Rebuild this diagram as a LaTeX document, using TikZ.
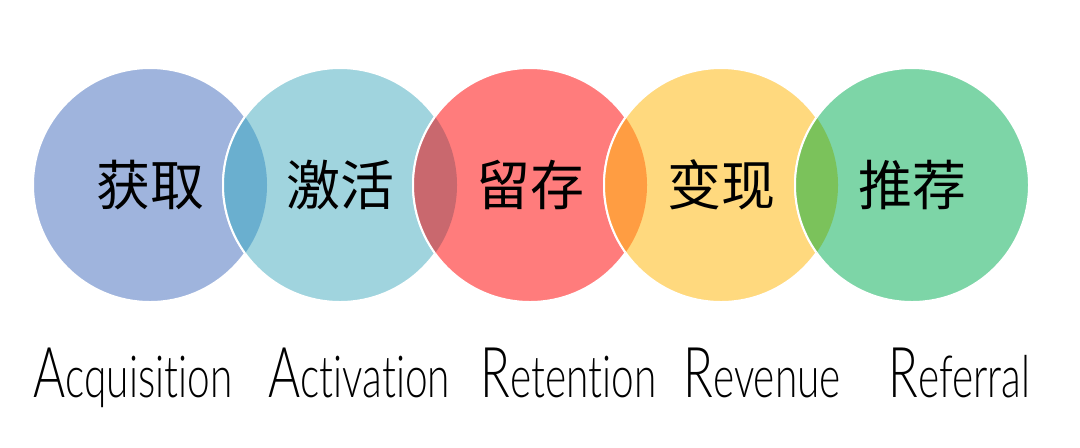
\documentclass[tikz,border=0pt]{standalone}
\usepackage{fontspec}
\setmainfont{Lato Light}[FakeStretch=0.7, Ligatures=NoCommon]
\newfontfamily\cjkfont{Noto Sans CJK SC}
\usepackage{xcolor}
\usepackage{tikz}
\usetikzlibrary{positioning}

\definecolor{acqcol}{HTML}{9FB4DD}
\definecolor{actcol}{HTML}{A0D4DE}
\definecolor{retcol}{HTML}{FF7C7C}
\definecolor{revcol}{HTML}{FFD97E}
\definecolor{refcol}{HTML}{7DD5A7}
\definecolor{lensone}{HTML}{6AAFCF}
\definecolor{lenstwo}{HTML}{C9686E}
\definecolor{lensthree}{HTML}{FF9D42}
\definecolor{lensfour}{HTML}{7BC25B}

\newcommand{\bigfirst}[1]{{\fontsize{35}{37}\selectfont #1}}

\begin{document}
\begin{tikzpicture}[
    x=0.5pt, y=0.5pt,
    stage/.style={circle, draw=white, line width=1pt, inner sep=0pt, minimum size=117pt,
        font=\cjkfont\fontsize{27}{30}\selectfont},
    lens/.style={draw=white, line width=1pt},
    wordlbl/.style={anchor=base west, inner sep=0pt, font=\fontsize{29}{31}\selectfont}
]
    \useasboundingbox (0,0) rectangle (1080,447);

    % Funnel circles
    \node[stage, fill=acqcol] (acq) at (150,262) {获取};
    \node[stage, fill=actcol] (act) at (340,262) {激活};
    \node[stage, fill=retcol] (ret) at (530,262) {留存};
    \node[stage, fill=revcol] (rev) at (721,262) {变现};
    \node[stage, fill=refcol] (ref) at (912,262) {推荐};

    % Overlaps
    \foreach \a/\b/\c in {acq/act/lensone, act/ret/lenstwo, ret/rev/lensthree, rev/ref/lensfour} {
        \begin{scope}
            \clip (\a) circle (117);
            \fill[lens, fill=\c] (\b) circle (117);
        \end{scope}
    }

    % AARRR labels
    \node[wordlbl] (acqtxt) at (33,50) {\bigfirst{A}cquisition};
    \node[wordlbl] (acttxt) at (268,50) {\bigfirst{A}ctivation};
    \node[wordlbl] (rettxt) at (480,50) {\bigfirst{R}etention};
    \node[wordlbl] (revtxt) at (683,50) {\bigfirst{R}evenue};
    \node[wordlbl] (reftxt) at (888,50) {\bigfirst{R}eferral};
\end{tikzpicture}
\end{document}
